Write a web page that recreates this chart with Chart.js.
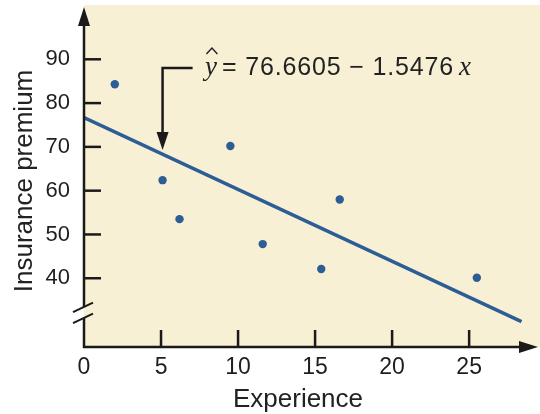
<!DOCTYPE html>
<html><head><meta charset="utf-8">
<style>html,body{margin:0;padding:0;background:#fff;overflow:hidden}#wrap{width:540px;height:414px}</style>
<script src="https://cdn.jsdelivr.net/npm/chart.js@4.4.1/dist/chart.umd.min.js"></script>
</head><body><div id="wrap"><canvas id="c" width="540" height="414"></canvas></div>
<script>
// ---- data ----
const experience = [2.0, 5.1, 9.5, 6.2, 11.6, 16.6, 15.4, 25.5];
const premium    = [84.3, 62.4, 70.2, 53.5, 47.8, 58.0, 42.1, 40.1];
const fitX = [0, 28.4];
const fitY = [76.7, 30.1];
const xTicks = [0, 5, 10, 15, 20, 25];
const yTicks = [40, 50, 60, 70, 80, 90];
const xTitle = 'Experience';
const yTitle = 'Insurance premium';
const eqLeft = 'y';
const eqMid = '= 76.6605 \u2212 1.5476';
const eqRight = 'x';
const arrowAt = {x: 5.1, xEnd: 7.05, yTop: 88.0, yTip: 69.3};
const eqAt = {x: 7.85, y: 86.4};
const breakY = [33.4, 30.9];

const BG = '#f8f0d5';
const INK = '#1a1a1a';
const BLUE = '#2c5d94';

const bgPlugin = {
  id: 'bg',
  beforeDraw(chart) {
    const {ctx, chartArea: a} = chart;
    ctx.save();
    ctx.fillStyle = BG;
    ctx.fillRect(a.left, a.top, a.right - a.left, a.bottom - a.top);
    ctx.restore();
  }
};

const axesPlugin = {
  id: 'axesDeco',
  afterDatasetsDraw(chart) {
    const {ctx, chartArea: a, scales} = chart;
    const xs = scales.x, ys = scales.y;
    const L = a.left, B = a.bottom, T = a.top, R = a.right;
    ctx.save();
    ctx.strokeStyle = INK; ctx.fillStyle = INK; ctx.lineWidth = 2.5; ctx.lineCap = 'butt';
    // y axis
    ctx.beginPath(); ctx.moveTo(L, B + 1); ctx.lineTo(L, T + 18); ctx.stroke();
    ctx.beginPath(); ctx.moveTo(L, T + 2); ctx.lineTo(L - 6, T + 21); ctx.lineTo(L + 6, T + 21); ctx.closePath(); ctx.fill();
    // x axis
    ctx.beginPath(); ctx.moveTo(L - 1, B); ctx.lineTo(R - 18, B); ctx.stroke();
    ctx.beginPath(); ctx.moveTo(R - 2, B); ctx.lineTo(R - 21, B - 6); ctx.lineTo(R - 21, B + 6); ctx.closePath(); ctx.fill();
    // ticks
    yTicks.forEach(v => { const p = ys.getPixelForValue(v); ctx.beginPath(); ctx.moveTo(L, p); ctx.lineTo(L + 17, p); ctx.stroke(); });
    xTicks.forEach(v => { if (v === 0) return; const p = xs.getPixelForValue(v); ctx.beginPath(); ctx.moveTo(p, B); ctx.lineTo(p, B - 17); ctx.stroke(); });
    // axis break
    const b1 = ys.getPixelForValue(breakY[0]), b2 = ys.getPixelForValue(breakY[1]);
    ctx.fillStyle = '#ffffff'; ctx.fillRect(L - 3, b1, 3, b2 - b1);
    ctx.fillStyle = BG; ctx.fillRect(L, b1, 3, b2 - b1);
    ctx.lineWidth = 2;
    [b1, b2].forEach(b => { ctx.beginPath(); ctx.moveTo(L - 11, b + 5); ctx.lineTo(L + 9, b - 4.5); ctx.stroke(); });
    // annotation arrow
    ctx.lineWidth = 2.5; ctx.fillStyle = INK;
    const ax = xs.getPixelForValue(arrowAt.x), axe = xs.getPixelForValue(arrowAt.xEnd);
    const ay = ys.getPixelForValue(arrowAt.yTop), at = ys.getPixelForValue(arrowAt.yTip);
    ctx.beginPath(); ctx.moveTo(axe, ay); ctx.lineTo(ax, ay); ctx.lineTo(ax, at - 16); ctx.stroke();
    ctx.beginPath(); ctx.moveTo(ax, at); ctx.lineTo(ax - 6, at - 18); ctx.lineTo(ax + 6, at - 18); ctx.closePath(); ctx.fill();
    // equation
    const ex = xs.getPixelForValue(eqAt.x), ey = ys.getPixelForValue(eqAt.y);
    ctx.fillStyle = '#222';
    ctx.textBaseline = 'alphabetic'; ctx.textAlign = 'left';
    ctx.font = 'italic 27px "Liberation Serif"';
    ctx.fillText(eqLeft, ex, ey);
    const yw = ctx.measureText(eqLeft).width;
    // hat
    ctx.lineWidth = 1.4; ctx.strokeStyle = '#222';
    const hc = ex + yw / 2 + 1;
    ctx.beginPath(); ctx.moveTo(hc - 5.5, ey - 21); ctx.lineTo(hc, ey - 27); ctx.lineTo(hc + 5.5, ey - 21); ctx.stroke();
    ctx.font = '25px "Liberation Sans"';
    try { ctx.letterSpacing = '0.85px'; } catch (e) {}
    const mx = ex + yw + 5;
    ctx.fillText(eqMid, mx, ey);
    const mw = ctx.measureText(eqMid).width;
    try { ctx.letterSpacing = '0px'; } catch (e) {}
    ctx.font = 'italic 27px "Liberation Serif"';
    ctx.fillText(eqRight, mx + mw + 5, ey);
    // axis titles
    ctx.font = '26px "Liberation Sans"';
    ctx.fillStyle = '#222';
    ctx.textAlign = 'center'; ctx.textBaseline = 'alphabetic';
    ctx.fillText(xTitle, L + 214, 407);
    ctx.translate(32, 181);
    ctx.rotate(-Math.PI / 2);
    ctx.fillText(yTitle, 0, 0);
    ctx.restore();
  }
};

new Chart(document.getElementById('c'), {
  type: 'scatter',
  data: {
    datasets: [
      {type: 'line', data: fitX.map((x, i) => ({x, y: fitY[i]})), borderColor: BLUE, borderWidth: 3.5,
       pointRadius: 0, fill: false, tension: 0, order: 2},
      {data: experience.map((x, i) => ({x, y: premium[i]})), backgroundColor: BLUE, borderColor: BLUE,
       borderWidth: 0, pointRadius: 4.2, pointHoverRadius: 4.2, order: 1}
    ]
  },
  options: {
    responsive: false, animation: false, devicePixelRatio: 1, events: [],
    layout: {autoPadding: false, padding: {top: 5, right: 0, left: 0, bottom: 0}},
    plugins: {legend: {display: false}, tooltip: {enabled: false}},
    scales: {
      x: {
        type: 'linear', min: 0, max: 29.6,
        afterBuildTicks: s => { s.ticks = xTicks.map(v => ({value: v})); },
        afterFit: s => { s.height = 67; s.paddingLeft = 0; s.paddingRight = 0; },
        grid: {display: false, drawTicks: false}, border: {display: false},
        ticks: {font: {family: 'Liberation Sans', size: 23}, color: '#1e1e1e', padding: 7, maxRotation: 0, autoSkip: false}
      },
      y: {
        type: 'linear', min: 24.3, max: 102.4,
        afterBuildTicks: s => { s.ticks = yTicks.map(v => ({value: v})); },
        afterFit: s => { s.width = 84; s.paddingTop = 0; s.paddingBottom = 0; },
        grid: {display: false, drawTicks: false}, border: {display: false},
        ticks: {font: {family: 'Liberation Sans', size: 22}, color: '#1e1e1e', padding: 14, autoSkip: false}
      }
    }
  },
  plugins: [bgPlugin, axesPlugin]
});
</script></body></html>
